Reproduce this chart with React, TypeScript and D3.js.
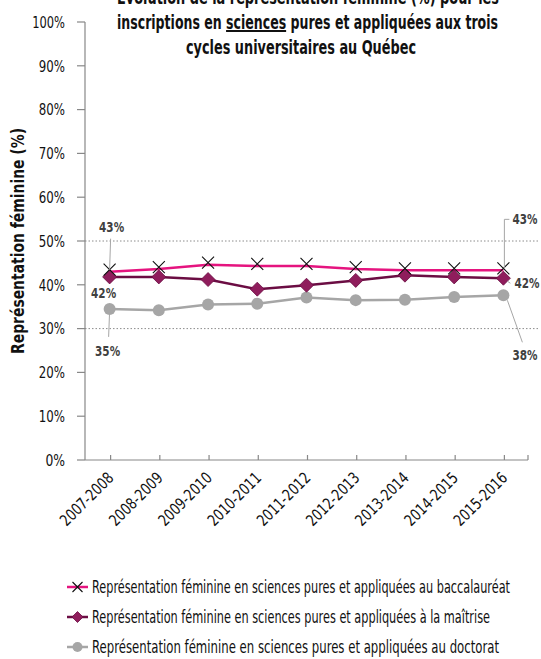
import React from "react";
import * as d3 from "d3";

const categories = ["2007-2008","2008-2009","2009-2010","2010-2011","2011-2012","2012-2013","2013-2014","2014-2015","2015-2016"];
const bacValues = [0.430, 0.436, 0.446, 0.443, 0.443, 0.436, 0.433, 0.433, 0.433];
const maitriseValues = [0.418, 0.418, 0.412, 0.390, 0.399, 0.410, 0.422, 0.418, 0.415];
const doctoratValues = [0.345, 0.342, 0.355, 0.357, 0.371, 0.365, 0.366, 0.372, 0.376];
const yTicks = [0, 0.1, 0.2, 0.3, 0.4, 0.5, 0.6, 0.7, 0.8, 0.9, 1.0];
const gridValues = [0.3, 0.5];
const titleLine1 = "Évolution de la représentation féminine (%) pour les";
const titleLine2a = "inscriptions en ";
const titleLine2b = "sciences";
const titleLine2c = " pures et appliquées aux trois";
const titleLine3 = "cycles universitaires au Québec";
const legendLabels = [
  "Représentation féminine en sciences pures et appliquées au baccalauréat",
  "Représentation féminine en sciences pures et appliquées à la maîtrise",
  "Représentation féminine en sciences pures et appliquées au doctorat",
];
const yAxisTitle = "Représentation féminine (%)";

const FONT = "'Liberation Sans Narrow', 'DejaVu Sans Condensed', 'Arial Narrow', sans-serif";
const PINK = "#e5147f";
const PLUM = "#6b0d43";
const PLUM_FILL = "#8f1d5c";
const GREY = "#a6a6a6";
const LABEL = "#404040";

export default function App() {
  const W = 541, H = 659;
  const left = 85, right = 528, top = 22, bottom = 460;
  const x = d3.scalePoint<string>().domain(categories).range([left, right]).padding(0.5);
  const y = d3.scaleLinear().domain([0, 1]).range([bottom, top]);
  const fmt = d3.format(".0%");
  const line = d3.line<number>().x((_, i) => x(categories[i])!).y((v) => y(v));

  const last = categories.length - 1;
  const x0 = x(categories[0])!;
  const xl = x(categories[last])!;

  const xMark = (cx: number, cy: number, s: number, key: string) => (
    <path key={key} d={`M${cx - s},${cy - s}L${cx + s},${cy + s}M${cx - s},${cy + s}L${cx + s},${cy - s}`} stroke="#111" strokeWidth={1.1} fill="none" />
  );
  const diamond = (cx: number, cy: number, s: number, key: string) => (
    <path key={key} d={`M${cx},${cy - s}L${cx + s},${cy}L${cx},${cy + s}L${cx - s},${cy}Z`} fill={PLUM_FILL} stroke={PLUM} strokeWidth={0.8} />
  );

  const legendWidths = [418, 398, 407];
  const legendY = [587, 617, 647];
  const tickWidth = (s: string) => (s.length - 1) * 6.6 + 13;

  const lbl = (tx: number, ty: number, t: string, anchor: string = "middle") => (
    <text x={tx} y={ty} dy="0.35em" textAnchor={anchor} textLength={25} lengthAdjust="spacingAndGlyphs">{t}</text>
  );

  return (
    <svg width={W} height={H} style={{ position: "absolute", left: 0, top: 0 }} fontFamily={FONT}>
      <rect width={W} height={H} fill="#fff" />
      {/* title */}
      <g fontSize={20} fontWeight="bold" fill="#111" textAnchor="middle">
        <text x={308} y={4} textLength={382} lengthAdjust="spacingAndGlyphs">{titleLine1}</text>
        <text x={307.5} y={29} textLength={381} lengthAdjust="spacingAndGlyphs">
          {titleLine2a}<tspan textDecoration="underline">{titleLine2b}</tspan>{titleLine2c}
        </text>
        <text x={301} y={54} textLength={230} lengthAdjust="spacingAndGlyphs">{titleLine3}</text>
      </g>

      {/* grid */}
      {gridValues.map((g) => (
        <line key={g} x1={left} x2={540} y1={y(g)} y2={y(g)} stroke="#8c8c8c" strokeWidth={1} strokeDasharray="1.5,2" />
      ))}

      {/* y axis */}
      <line x1={left} x2={left} y1={top} y2={bottom} stroke="#888" strokeWidth={1.2} />
      {yTicks.map((t) => (
        <g key={t}>
          <line x1={77} x2={left} y1={y(t)} y2={y(t)} stroke="#888" strokeWidth={1.2} />
          <text x={65} y={y(t)} dy="0.36em" textAnchor="end" fontSize={16} fill="#111"
            textLength={tickWidth(fmt(t))} lengthAdjust="spacingAndGlyphs">{fmt(t)}</text>
        </g>
      ))}
      <text transform={`translate(24,241) rotate(-90)`} textAnchor="middle" fontSize={17} fontWeight="bold" fill="#111"
        textLength={226} lengthAdjust="spacingAndGlyphs">{yAxisTitle}</text>

      {/* x axis */}
      <line x1={left} x2={right} y1={bottom} y2={bottom} stroke="#888" strokeWidth={1.2} />
      {categories.map((c) => (
        <line key={c} x1={x(c)! + 1} x2={x(c)! + 1} y1={bottom - 5} y2={bottom} stroke="#888" strokeWidth={1.2} />
      ))}
      <line x1={right} x2={right} y1={bottom - 5} y2={bottom} stroke="#888" strokeWidth={1.2} />
      {categories.map((c) => (
        <text key={c} transform={`translate(${x(c)! + 5},${bottom + 19}) rotate(-45)`} textAnchor="end" fontSize={16} fill="#111"
          textLength={68} lengthAdjust="spacingAndGlyphs">{c}</text>
      ))}

      {/* series */}
      <path d={line(doctoratValues)!} fill="none" stroke={GREY} strokeWidth={2.5} />
      <path d={line(maitriseValues)!} fill="none" stroke={PLUM} strokeWidth={2.5} />
      <path d={line(bacValues)!} fill="none" stroke={PINK} strokeWidth={2.5} />
      {doctoratValues.map((v, i) => (
        <circle key={"d" + i} cx={x(categories[i])!} cy={y(v)} r={6} fill={GREY} />
      ))}
      {maitriseValues.map((v, i) => diamond(x(categories[i])!, y(v), 7, "m" + i))}
      {bacValues.map((v, i) => xMark(x(categories[i])!, y(v) - 2, 6, "b" + i))}

      {/* data labels */}
      <g fontSize={14} fontWeight="bold" fill={LABEL}>
        <polyline points={`${x0},${y(bacValues[0]) - 2} ${x0 + 1},${y(bacValues[0]) - 33}`} fill="none" stroke="#a6a6a6" strokeWidth={1} />
        {lbl(x0 + 2, y(bacValues[0]) - 45, fmt(bacValues[0]))}
        {lbl(x0 - 6, y(maitriseValues[0]) + 16, fmt(maitriseValues[0]))}
        <polyline points={`${x0},${y(doctoratValues[0]) + 2} ${x0 - 1},${y(doctoratValues[0]) + 28}`} fill="none" stroke="#a6a6a6" strokeWidth={1} />
        {lbl(x0 - 2, y(doctoratValues[0]) + 42, fmt(doctoratValues[0]))}

        <polyline points={`${xl + 1},${y(bacValues[last]) - 2} ${xl + 1},${y(bacValues[last]) - 51} ${xl + 6},${y(bacValues[last]) - 51}`} fill="none" stroke="#a6a6a6" strokeWidth={1} />
        {lbl(xl + 9, y(bacValues[last]) - 51, fmt(bacValues[last]), "start")}
        <polyline points={`${xl + 4},${y(maitriseValues[last]) + 3} ${xl + 7},${y(maitriseValues[last]) + 5}`} fill="none" stroke="#a6a6a6" strokeWidth={1} />
        {lbl(xl + 11, y(maitriseValues[last]) + 5, fmt(maitriseValues[last]), "start")}
        <polyline points={`${xl + 4},${y(doctoratValues[last]) + 5} ${xl + 19},${y(doctoratValues[last]) + 47}`} fill="none" stroke="#a6a6a6" strokeWidth={1} />
        {lbl(xl + 9, y(doctoratValues[last]) + 60, fmt(doctoratValues[last]), "start")}
      </g>

      {/* legend */}
      {legendLabels.map((l, i) => {
        const ly = legendY[i];
        const color = [PINK, PLUM, GREY][i];
        return (
          <g key={l}>
            <line x1={67} x2={88} y1={ly} y2={ly} stroke={color} strokeWidth={2.5} />
            {i === 0 && xMark(77.5, ly, 5, "lx")}
            {i === 1 && diamond(77.5, ly, 5.5, "ld")}
            {i === 2 && <circle cx={77.5} cy={ly} r={5} fill={GREY} />}
            <text x={92} y={ly} dy="0.36em" fontSize={17} fill="#111" textLength={legendWidths[i]} lengthAdjust="spacingAndGlyphs">{l}</text>
          </g>
        );
      })}
    </svg>
  );
}
